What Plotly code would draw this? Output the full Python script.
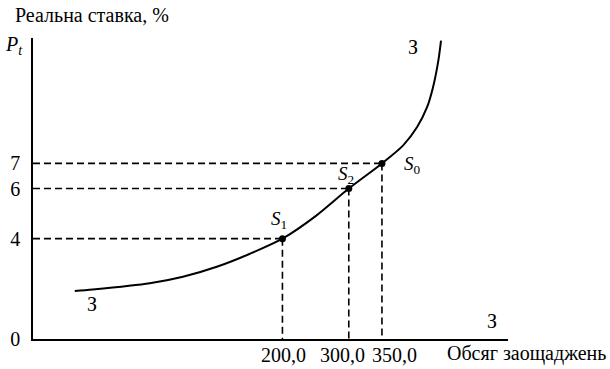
import plotly.graph_objects as go

# Data (schematic savings curve)
curve_x = [-113, -86, 0, 50, 101, 151, 200, 250, 300, 350, 382, 403, 418, 427, 435, 439]
curve_y = [1.91, 1.97, 2.22, 2.48, 2.88, 3.40, 4.0, 4.9, 6.0, 7.0, 7.72, 8.45, 9.24, 10.04, 11.1, 11.9]
point_x = [200, 300, 350]
point_y = [4, 6, 7]
point_subs = ["1", "2", "0"]
x_ticks = [200, 300, 350]
x_ticklabels = ["200,0", "300,0", "350,0"]
y_ticks = [0, 4, 6, 7]
y_ticklabels = ["0", "4", "6", "7"]

X_RANGE = [-176, 540]
Y_RANGE = [0, 12]
FONT = "Liberation Serif, Times New Roman, serif"
FS = 20

fig = go.Figure()

# dashed guide lines
for px, py in zip(point_x, point_y):
    fig.add_trace(go.Scatter(x=[X_RANGE[0], px], y=[py, py], mode="lines",
                             line=dict(color="black", width=1.6, dash="7px,4px"),
                             hoverinfo="skip", showlegend=False))
    fig.add_trace(go.Scatter(x=[px, px], y=[py, Y_RANGE[0]], mode="lines",
                             line=dict(color="black", width=1.6, dash="7px,4px"),
                             hoverinfo="skip", showlegend=False))

fig.add_trace(go.Scatter(x=curve_x, y=curve_y, mode="lines",
                         line=dict(color="black", width=2, shape="spline", smoothing=0.8),
                         showlegend=False))
fig.add_trace(go.Scatter(x=point_x, y=point_y, mode="markers",
                         marker=dict(color="black", size=7), showlegend=False))

shifts = [(-3, 19), (-3, 14), (31, -2)]
for px, py, sub, (dx, dy) in zip(point_x, point_y, point_subs, shifts):
    fig.add_annotation(x=px, y=py, text="<i>S</i><sub>" + sub + "</sub>", showarrow=False,
                       xshift=dx, yshift=dy, font=dict(family=FONT, size=19, color="black"))

# x tick labels (spread slightly apart as in the schematic original)
label_shifts = [1, -6, 13]
for tv, tt, dx in zip(x_ticks, x_ticklabels, label_shifts):
    fig.add_annotation(x=tv, y=0, xref="x", yref="paper", text=tt, showarrow=False,
                       xanchor="center", yanchor="top", xshift=dx, yshift=-3,
                       font=dict(family=FONT, size=FS, color="black"))

def pap(px, py):
    return (px - 33) / 475, (339 - py) / 301

anns = [
    ("Реальна ставка, %", 13, 15, "left"),
    ("<i>P</i><sub><i>t</i></sub>", 3, 46, "left"),
    ("Обсяг заощаджень", 445, 353, "left"),
    ("З", 413, 47, "center"),
    ("З", 92, 304, "center"),
    ("З", 492, 321, "center"),
]
for text, px, py, anchor in anns:
    xp, yp = pap(px, py)
    fig.add_annotation(x=xp, y=yp, xref="paper", yref="paper", text=text,
                       showarrow=False, xanchor=anchor, yanchor="middle",
                       font=dict(family=FONT, size=FS, color="black"))

fig.update_xaxes(range=X_RANGE, showline=True, linecolor="black", linewidth=1.5,
                 showgrid=False, zeroline=False, tickvals=x_ticks, showticklabels=False,
                 ticks="", automargin=False)
fig.update_yaxes(range=Y_RANGE, showline=True, linecolor="black", linewidth=1.5,
                 showgrid=False, zeroline=False, tickvals=y_ticks, ticktext=y_ticklabels,
                 ticks="", ticklabelstandoff=7, automargin=False,
                 tickfont=dict(family=FONT, size=FS, color="black"))

fig.update_layout(width=610, height=369, margin=dict(l=33, r=102, t=38, b=30),
                  plot_bgcolor="white", paper_bgcolor="white",
                  font=dict(family=FONT, color="black"))

fig.write_html("out.html", config={"displayModeBar": False},
               post_script="document.body.style.margin='0';document.body.style.overflow='hidden';")
